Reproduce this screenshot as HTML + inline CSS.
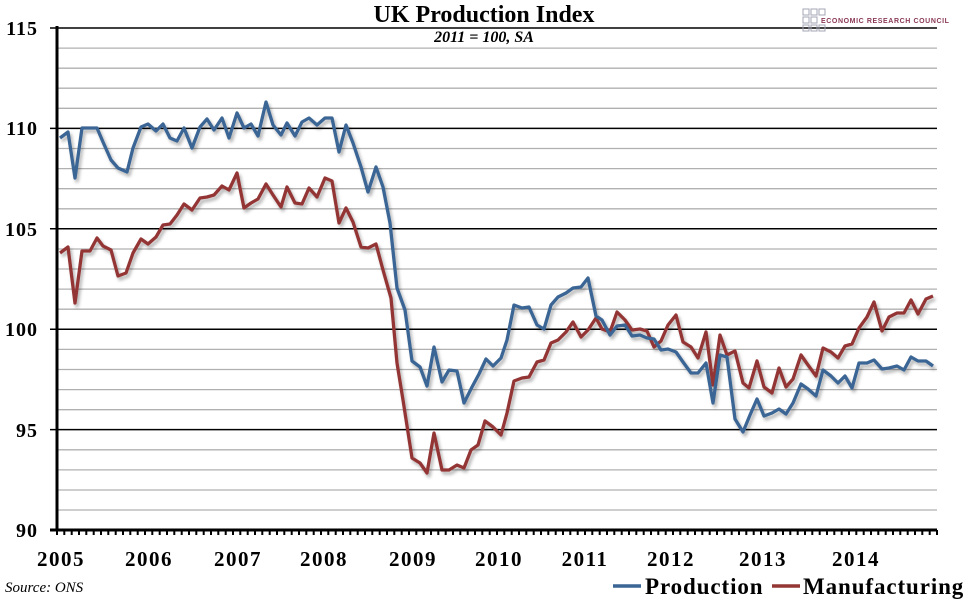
<!DOCTYPE html>
<html><head><meta charset="utf-8"><style>
body{margin:0;background:#fff;}
svg{display:block;font-family:"Liberation Serif",serif;}
</style></head><body>
<svg width="967" height="600" viewBox="0 0 967 600" xmlns="http://www.w3.org/2000/svg">
<defs><filter id="sh" x="-5%" y="-5%" width="110%" height="110%"><feDropShadow dx="2" dy="3" stdDeviation="1.5" flood-color="#000" flood-opacity="0.3"/></filter></defs>
<g stroke="#b0b0b0" stroke-width="1.3">
<line x1="57" x2="937" y1="48.1" y2="48.1"/><line x1="57" x2="937" y1="68.2" y2="68.2"/><line x1="57" x2="937" y1="88.2" y2="88.2"/><line x1="57" x2="937" y1="108.3" y2="108.3"/>
<line x1="57" x2="937" y1="148.5" y2="148.5"/><line x1="57" x2="937" y1="168.6" y2="168.6"/><line x1="57" x2="937" y1="188.7" y2="188.7"/><line x1="57" x2="937" y1="208.8" y2="208.8"/>
<line x1="57" x2="937" y1="249" y2="249"/><line x1="57" x2="937" y1="269" y2="269"/><line x1="57" x2="937" y1="289.1" y2="289.1"/><line x1="57" x2="937" y1="309.2" y2="309.2"/>
<line x1="57" x2="937" y1="349.4" y2="349.4"/><line x1="57" x2="937" y1="369.5" y2="369.5"/><line x1="57" x2="937" y1="389.6" y2="389.6"/><line x1="57" x2="937" y1="409.7" y2="409.7"/>
<line x1="57" x2="937" y1="449.8" y2="449.8"/><line x1="57" x2="937" y1="469.9" y2="469.9"/><line x1="57" x2="937" y1="490" y2="490"/><line x1="57" x2="937" y1="510" y2="510"/>
</g>
<g stroke="#000" stroke-width="1.5">
<line x1="50" x2="937" y1="28" y2="28"/><line x1="50" x2="937" y1="128.4" y2="128.4"/><line x1="50" x2="937" y1="228.8" y2="228.8"/><line x1="50" x2="937" y1="329.2" y2="329.2"/><line x1="50" x2="937" y1="429.6" y2="429.6"/>
</g>
<line x1="57" x2="57" y1="26" y2="531" stroke="#000" stroke-width="3"/>
<line x1="50" x2="937" y1="530" y2="530" stroke="#000" stroke-width="3"/>
<path d="M57,530v5" stroke="#000" stroke-width="2" fill="none" id="tk"/>
<g stroke="#000" stroke-width="2" fill="none">
<path d="M64.3,530v5M71.7,530v5M79,530v5M86.3,530v5M93.7,530v5M101,530v5M108.3,530v5M115.7,530v5M123,530v5M130.3,530v5M137.7,530v5M145,530v5M152.3,530v5M159.7,530v5M167,530v5M174.3,530v5M181.7,530v5M189,530v5M196.3,530v5M203.7,530v5M211,530v5M218.3,530v5M225.7,530v5M233,530v5M240.3,530v5M247.7,530v5M255,530v5M262.3,530v5M269.7,530v5M277,530v5M284.3,530v5M291.7,530v5M299,530v5M306.3,530v5M313.7,530v5M321,530v5M328.3,530v5M335.7,530v5M343,530v5M350.3,530v5M357.7,530v5M365,530v5M372.3,530v5M379.7,530v5M387,530v5M394.3,530v5M401.7,530v5M409,530v5M416.3,530v5M423.7,530v5M431,530v5M438.3,530v5M445.7,530v5M453,530v5M460.3,530v5M467.7,530v5M475,530v5M482.3,530v5M489.7,530v5M497,530v5M504.3,530v5M511.7,530v5M519,530v5M526.3,530v5M533.7,530v5M541,530v5M548.3,530v5M555.7,530v5M563,530v5M570.3,530v5M577.7,530v5M585,530v5M592.3,530v5M599.7,530v5M607,530v5M614.3,530v5M621.7,530v5M629,530v5M636.3,530v5M643.7,530v5M651,530v5M658.3,530v5M665.7,530v5M673,530v5M680.3,530v5M687.7,530v5M695,530v5M702.3,530v5M709.7,530v5M717,530v5M724.3,530v5M731.7,530v5M739,530v5M746.3,530v5M753.7,530v5M761,530v5M768.3,530v5M775.7,530v5M783,530v5M790.3,530v5M797.7,530v5M805,530v5M812.3,530v5M819.7,530v5M827,530v5M834.3,530v5M841.7,530v5M849,530v5M856.3,530v5M863.7,530v5M871,530v5M878.3,530v5M885.7,530v5M893,530v5M900.3,530v5M907.7,530v5M915,530v5M922.3,530v5M929.7,530v5M937,530v5"/>
</g>
<g font-size="20" font-weight="bold" text-anchor="end" letter-spacing="1">
<text x="38" y="35">115</text><text x="38" y="135">110</text><text x="38" y="236">105</text><text x="38" y="336">100</text><text x="38" y="437">95</text><text x="38" y="537">90</text>
</g>
<g font-size="21" font-weight="bold" text-anchor="middle" letter-spacing="1.5">
<text x="61" y="566">2005</text><text x="149" y="566">2006</text><text x="238" y="566">2007</text><text x="324" y="566">2008</text><text x="413" y="566">2009</text><text x="499" y="566">2010</text><text x="585" y="566">2011</text><text x="671" y="566">2012</text><text x="763" y="566">2013</text><text x="856" y="566">2014</text>
</g>
<text x="484" y="22" font-size="24" font-weight="bold" text-anchor="middle">UK Production Index</text>
<text x="484" y="42" font-size="16" font-weight="bold" font-style="italic" text-anchor="middle">2011 = 100, SA</text>
<text x="5" y="592" font-size="15" font-style="italic">Source: ONS</text>
<line x1="613" x2="641" y1="586" y2="586" stroke="#3a6594" stroke-width="3.5"/>
<text x="645" y="594" font-size="23" font-weight="bold" letter-spacing="0.9">Production</text>
<line x1="772" x2="800" y1="586" y2="586" stroke="#943634" stroke-width="3.5"/>
<text x="803" y="594" font-size="23" font-weight="bold" letter-spacing="0.9">Manufacturing</text>
<g fill="none" stroke="#a5a5b5" stroke-width="1"><rect x="803" y="9" width="6" height="6"/><rect x="811" y="9" width="6" height="6"/><rect x="819" y="9" width="6" height="6"/><rect x="803" y="17" width="6" height="6"/><rect x="811" y="17" width="6" height="6"/><rect x="803" y="25" width="6" height="6"/><rect x="811" y="25" width="6" height="6"/><rect x="819" y="25" width="6" height="6"/></g>
<text x="821" y="23" font-family="Liberation Sans,sans-serif" font-size="7" font-weight="bold" fill="#8b3a55" letter-spacing="0.6">ECONOMIC RESEARCH COUNCIL</text>
<g fill="none" stroke-width="3.3" stroke-linejoin="round" filter="url(#sh)">
<polyline stroke="#943634" points="60,253 68,247 75,303 82,251 90,251 97,238 103,246 111,250 118,276 126,273 133,253 141,239 148,244 156,237 163,225 170,224 177,215 184,204 192,210 200,198 207,197 214,195 222,186 229,190 237,173 244,208 251,203 258,199 266,184 273,195 281,207 287,187 295,203 302,204 309,188 317,197 325,178 332,181 339,223 346,208 353,222 361,247 368,248 376,244 383,270 391,298 397,363 403,400 412,458 420,463 427,473 434,433 442,470 449,470 457,465 464,468 471,450 478,445 485,421 493,427 501,435 507,413 514,381 522,378 529,377 537,362 544,360 551,343 558,340 566,332 573,322 581,337 588,330 596,318 602,329 610,332 617,312 625,320 632,330 640,329 647,331 654,347 661,341 668,325 676,315 683,342 691,347 698,358 706,332 713,385 720,335 727,355 735,351 743,383 749,388 757,361 764,387 772,393 779,368 786,387 793,379 801,355 808,365 816,376 823,348 831,352 838,358 845,346 852,344 859,328 867,317 874,302 882,331 889,317 897,313 904,313 911,300 918,314 926,299 933,296"/>
<polyline stroke="#3a6594" points="60,138 68,132 75,178 82,128 90,128 97,128 103,142 111,160 118,168 127,172 133,148 141,127 148,124 156,131 163,124 170,138 177,141 184,128 192,148 200,127 207,119 214,130 222,118 229,138 237,113 244,128 251,124 258,136 266,102 273,125 281,135 287,123 295,136 302,122 309,118 317,125 325,118 332,118 339,152 346,125 353,143 361,167 368,192 376,167 383,187 390,223 397,288 405,310 412,361 420,367 427,386 434,347 442,382 449,370 457,371 464,403 472,387 479,374 486,359 493,366 501,358 507,340 514,305 522,308 529,307 537,325 544,329 551,305 558,297 566,293 573,288 581,287 588,278 596,316 602,320 610,335 617,326 625,325 632,336 640,335 647,338 654,339 661,350 668,349 676,352 683,362 691,373 698,373 706,363 713,403 720,355 727,357 735,419 743,432 750,415 757,399 764,416 772,413 779,409 786,414 793,403 801,384 808,389 816,396 823,370 831,376 838,383 845,376 852,388 859,363 867,363 874,360 882,369 889,368 897,366 904,370 911,357 918,361 926,361 933,366"/>
</g>
</svg>
</body></html>
